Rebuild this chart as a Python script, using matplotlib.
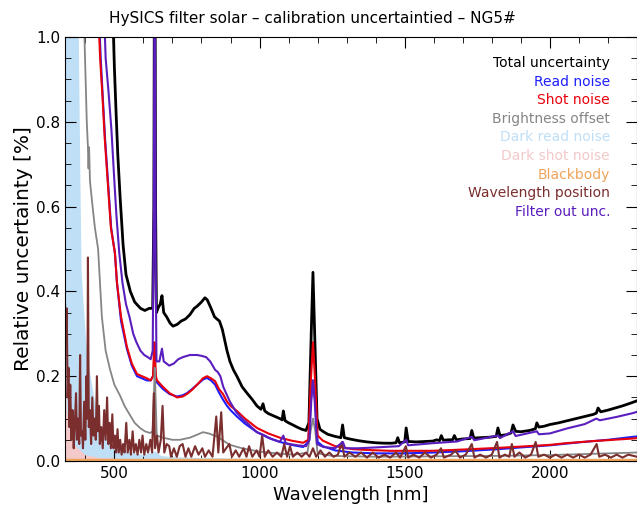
import matplotlib
matplotlib.use('Agg')
import matplotlib.pyplot as plt
from matplotlib.ticker import MultipleLocator

plt.rcParams['font.family'] = ['DejaVu Sans']

# Total uncertainty (black)
wl_total = [495, 500, 506, 512, 520, 530, 540, 555, 570, 590, 605, 620, 632, 636, 638, 640, 642, 645,
            650, 658, 664, 670, 680, 692, 702, 716, 730, 745, 760, 775, 785, 800, 812, 820, 833, 845,
            853, 862, 872, 880, 888, 898, 910, 922, 940, 957, 975, 991, 1005, 1012, 1018, 1030, 1050,
            1070, 1078, 1082, 1088, 1100, 1115, 1129, 1145, 1160, 1170, 1178, 1184, 1190, 1198, 1208,
            1218, 1235, 1260, 1280, 1286, 1292, 1310, 1340, 1370, 1400, 1430, 1455, 1470, 1476, 1482,
            1500, 1505, 1512, 1540, 1570, 1597, 1610, 1620, 1626, 1633, 1650, 1665, 1671, 1678, 1700,
            1725, 1731, 1738, 1760, 1790, 1815, 1821, 1828, 1850, 1866, 1873, 1882, 1900, 1930, 1950,
            1955, 1962, 1980, 2000, 2030, 2060, 2090, 2120, 2150, 2160, 2166, 2175, 2200, 2220, 2250,
            2280, 2300]
total = [1.05, 0.93, 0.82, 0.72, 0.62, 0.51, 0.44, 0.40, 0.375, 0.36, 0.355, 0.36, 0.36, 0.6, 1.2, 1.2,
         0.6, 0.35, 0.36, 0.37, 0.39, 0.35, 0.34, 0.325, 0.318, 0.322, 0.33, 0.335, 0.345, 0.36, 0.365,
         0.375, 0.385, 0.38, 0.36, 0.34, 0.335, 0.33, 0.31, 0.285, 0.26, 0.235, 0.215, 0.2, 0.175, 0.16,
         0.145, 0.13, 0.122, 0.135, 0.118, 0.112, 0.106, 0.1, 0.097, 0.118, 0.095, 0.09, 0.085, 0.08,
         0.075, 0.072, 0.09, 0.3, 0.445, 0.3, 0.1, 0.075, 0.07, 0.063, 0.058, 0.055, 0.085, 0.055, 0.052,
         0.048, 0.045, 0.043, 0.042, 0.042, 0.043, 0.055, 0.043, 0.045, 0.078, 0.046, 0.045, 0.046,
         0.047, 0.05, 0.048, 0.06, 0.049, 0.05, 0.05, 0.06, 0.05, 0.052, 0.053, 0.072, 0.054, 0.055,
         0.056, 0.058, 0.078, 0.06, 0.062, 0.066, 0.085, 0.07, 0.069, 0.072, 0.076, 0.09, 0.08, 0.082,
         0.086, 0.09, 0.095, 0.1, 0.105, 0.11, 0.113, 0.125, 0.116, 0.12, 0.124, 0.13, 0.137, 0.142]

# Read noise (blue)
wl_read = [447, 453, 460, 468, 476, 489, 502, 509, 523, 543, 560, 578, 595, 612, 625, 633, 636, 638, 640,
           643, 647, 667, 690, 716, 735, 750, 768, 785, 805, 819, 833, 847, 860, 874, 888, 900, 922, 950,
           991, 1030, 1070, 1110, 1150, 1168, 1176, 1184, 1192, 1200, 1218, 1260, 1320, 1400, 1500, 1600,
           1700, 1824, 1900, 2000, 2100, 2200, 2286, 2300]
read = [1.05, 0.95, 0.86, 0.76, 0.68, 0.55, 0.49, 0.42, 0.33, 0.265, 0.225, 0.2, 0.195, 0.19, 0.19, 0.2,
        0.22, 0.25, 0.22, 0.19, 0.185, 0.17, 0.158, 0.152, 0.155, 0.16, 0.17, 0.18, 0.192, 0.196, 0.19,
        0.18, 0.162, 0.145, 0.13, 0.12, 0.105, 0.088, 0.068, 0.055, 0.045, 0.038, 0.033, 0.045, 0.14,
        0.19, 0.14, 0.045, 0.035, 0.025, 0.02, 0.018, 0.018, 0.02, 0.023, 0.028, 0.032, 0.037, 0.044,
        0.05, 0.057, 0.058]

# Shot noise (red)
wl_shot = [445, 451, 459, 467, 475, 488, 502, 509, 523, 543, 560, 578, 595, 612, 625, 633, 636, 638, 640,
           643, 647, 667, 690, 716, 735, 750, 768, 785, 805, 819, 833, 847, 860, 874, 888, 900, 922, 950,
           991, 1030, 1070, 1110, 1150, 1168, 1176, 1184, 1192, 1200, 1218, 1260, 1320, 1370, 1450, 1594,
           1700, 1824, 1900, 2000, 2055, 2150, 2286, 2300]
shot = [1.05, 0.95, 0.86, 0.76, 0.68, 0.55, 0.49, 0.42, 0.34, 0.27, 0.23, 0.205, 0.2, 0.195, 0.19, 0.2,
        0.25, 0.28, 0.25, 0.2, 0.19, 0.175, 0.16, 0.15, 0.152, 0.158, 0.168, 0.18, 0.195, 0.2, 0.195,
        0.188, 0.17, 0.158, 0.14, 0.13, 0.118, 0.1, 0.078, 0.065, 0.055, 0.048, 0.043, 0.05, 0.18, 0.28,
        0.18, 0.06, 0.048, 0.035, 0.028, 0.026, 0.024, 0.024, 0.027, 0.031, 0.034, 0.038, 0.042, 0.047,
        0.053, 0.054]

# Brightness offset (gray)
wl_bright = [395, 399, 405, 409, 411, 413, 416, 425, 433, 444, 457, 470, 485, 500, 519, 535, 554, 570,
             588, 605, 623, 632, 636, 639, 642, 646, 667, 700, 726, 760, 785, 805, 825, 853, 875, 898, 940,
             1000, 1060, 1120, 1165, 1176, 1184, 1192, 1200, 1250, 1400, 1600, 1800, 2000, 2200, 2300]
bright = [1.05, 0.95, 0.8, 0.74, 0.69, 0.74, 0.66, 0.6, 0.55, 0.5, 0.34, 0.26, 0.216, 0.18, 0.155, 0.13,
          0.108, 0.09, 0.078, 0.07, 0.066, 0.07, 0.15, 0.22, 0.15, 0.06, 0.055, 0.05, 0.05, 0.055, 0.062,
          0.068, 0.065, 0.058, 0.048, 0.038, 0.03, 0.022, 0.018, 0.015, 0.02, 0.07, 0.1, 0.07, 0.018, 0.012,
          0.01, 0.011, 0.012, 0.014, 0.018, 0.02]

# Dark read noise (light blue)
wl_dread = [330, 340, 350, 360, 368, 372, 376, 380, 384, 390, 398, 405, 415, 425, 435, 450, 470, 500, 540,
            600, 640, 660, 700, 800, 1000, 1500, 2300]
dread = [1.5, 1.5, 1.5, 1.5, 1.5, 1.2, 0.9, 0.66, 0.45, 0.38, 0.3, 0.24, 0.2, 0.16, 0.12, 0.08, 0.05, 0.03,
         0.02, 0.012, 0.02, 0.01, 0.007, 0.005, 0.003, 0.002, 0.002]

# Dark shot noise (pink)
wl_dshot = [330, 335, 345, 360, 375, 400, 450, 600, 2300]
dshot = [0.3, 0.12, 0.07, 0.04, 0.03, 0.015, 0.008, 0.004, 0.002]

# Blackbody (orange)
wl_bb = [330, 800, 1300, 1800, 2300]
bb = [0.002, 0.002, 0.002, 0.002, 0.002]

# Wavelength position (brown)
wl_pos = [330, 333, 336, 339, 342, 345, 348, 352, 356, 360, 364, 368, 371, 375, 379, 382, 385, 389, 392,
          396, 400, 404, 407, 409, 412, 416, 420, 424, 428, 432, 436, 440, 443, 447, 450, 455, 460, 465,
          470, 475, 479, 484, 488, 493, 497, 502, 506, 511, 515, 520, 525, 530, 535, 541, 546, 552, 557,
          563, 568, 574, 580, 586, 592, 597, 603, 610, 616, 624, 630, 636, 640, 647, 652, 660, 666, 672,
          680, 689, 695, 705, 715, 725, 735, 745, 755, 765, 778, 790, 803, 812, 825, 838, 851, 858, 868,
          875, 885, 896, 905, 918, 930, 945, 955, 964, 975, 990, 1000, 1009, 1018, 1030, 1045, 1060, 1075,
          1085, 1095, 1105, 1115, 1130, 1145, 1160, 1172, 1184, 1195, 1210, 1225, 1240, 1255, 1270, 1284,
          1292, 1310, 1330, 1350, 1370, 1390, 1410, 1430, 1450, 1470, 1484, 1504, 1512, 1530, 1550, 1570,
          1590, 1610, 1625, 1635, 1660, 1675, 1690, 1710, 1731, 1740, 1760, 1780, 1800, 1818, 1826, 1845,
          1860, 1869, 1878, 1895, 1915, 1935, 1951, 1960, 1980, 2000, 2020, 2040, 2060, 2080, 2100, 2120,
          2140, 2161, 2170, 2190, 2210, 2230, 2250, 2270, 2300]
pos = [0.37, 0.3, 0.36, 0.15, 0.22, 0.08, 0.18, 0.05, 0.12, 0.03, 0.09, 0.16, 0.05, 0.1, 0.04, 0.25, 0.06,
       0.07, 0.03, 0.14, 0.05, 0.2, 0.1, 0.48, 0.08, 0.12, 0.04, 0.15, 0.06, 0.1, 0.05, 0.2, 0.07, 0.13,
       0.04, 0.08, 0.03, 0.12, 0.05, 0.15, 0.04, 0.09, 0.03, 0.11, 0.03, 0.06, 0.02, 0.075, 0.02, 0.05,
       0.015, 0.04, 0.02, 0.09, 0.02, 0.05, 0.015, 0.07, 0.02, 0.04, 0.015, 0.05, 0.02, 0.06, 0.015, 0.04,
       0.02, 0.05, 0.02, 0.16, 0.03, 0.06, 0.02, 0.05, 0.13, 0.02, 0.04, 0.035, 0.01, 0.03, 0.01, 0.035,
       0.04, 0.01, 0.03, 0.01, 0.035, 0.015, 0.03, 0.01, 0.025, 0.01, 0.105, 0.02, 0.115, 0.02, 0.03, 0.04,
       0.01, 0.025, 0.01, 0.03, 0.01, 0.035, 0.01, 0.025, 0.01, 0.06, 0.01, 0.025, 0.01, 0.02, 0.01, 0.04,
       0.01, 0.035, 0.01, 0.02, 0.01, 0.02, 0.01, 0.03, 0.01, 0.025, 0.01, 0.02, 0.01, 0.015, 0.045, 0.01,
       0.02, 0.01, 0.02, 0.008, 0.02, 0.008, 0.015, 0.008, 0.02, 0.008, 0.035, 0.008, 0.015, 0.008, 0.02,
       0.008, 0.015, 0.03, 0.008, 0.015, 0.025, 0.008, 0.015, 0.04, 0.008, 0.015, 0.008, 0.015, 0.045,
       0.008, 0.015, 0.01, 0.04, 0.01, 0.02, 0.008, 0.015, 0.045, 0.01, 0.015, 0.008, 0.015, 0.008, 0.015,
       0.008, 0.015, 0.008, 0.015, 0.04, 0.01, 0.015, 0.008, 0.015, 0.008, 0.015, 0.01]

# Filter out unc. (purple)
wl_filt = [465, 470, 480, 490, 500, 507, 517, 528, 540, 552, 565, 576, 590, 603, 615, 625, 632, 636, 638,
           640, 642, 645, 655, 664, 670, 689, 705, 720, 736, 760, 785, 800, 816, 830, 847, 856, 865, 875,
           888, 898, 920, 940, 957, 975, 991, 1012, 1040, 1070, 1082, 1090, 1105, 1130, 1160, 1172, 1178,
           1184, 1190, 1198, 1220, 1260, 1287, 1295, 1340, 1400, 1480, 1505, 1512, 1597, 1680, 1731, 1740,
           1821, 1828, 1873, 1882, 1955, 1962, 2000, 2060, 2120, 2160, 2172, 2230, 2286, 2300]
filt = [1.05, 0.95, 0.87, 0.78, 0.66, 0.58, 0.49, 0.42, 0.37, 0.34, 0.3, 0.28, 0.26, 0.25, 0.245, 0.24,
        0.26, 0.6, 1.1, 1.1, 0.5, 0.235, 0.235, 0.265, 0.235, 0.225, 0.23, 0.24, 0.245, 0.25, 0.25, 0.248,
        0.245, 0.235, 0.215, 0.21, 0.2, 0.175, 0.155, 0.14, 0.115, 0.1, 0.09, 0.078, 0.068, 0.062, 0.052,
        0.045, 0.06, 0.042, 0.04, 0.037, 0.035, 0.05, 0.14, 0.19, 0.14, 0.04, 0.033, 0.03, 0.045, 0.03,
        0.03, 0.032, 0.035, 0.05, 0.037, 0.042, 0.046, 0.057, 0.049, 0.06, 0.054, 0.07, 0.059, 0.07, 0.063,
        0.065, 0.077, 0.087, 0.1, 0.096, 0.104, 0.113, 0.116]

labels = ['Total uncertainty', 'Read noise', 'Shot noise', 'Brightness offset', 'Dark read noise',
          'Dark shot noise', 'Blackbody', 'Wavelength position', 'Filter out unc.']
colors = ['#000000', '#1E1EFF', '#E8000B', '#858585', '#BFDFF7', '#F3C9C9', '#EFA45C', '#7B2E2E', '#5A1EBE']

fig = plt.figure(figsize=(6.37, 5.12), dpi=100)
ax = fig.add_axes([65 / 637, 1 - 461 / 512, 572 / 637, 424 / 512])

ax.plot(wl_total, total, color=colors[0], linewidth=2)
ax.plot(wl_read, read, color=colors[1], linewidth=1.5)
ax.plot(wl_shot, shot, color=colors[2], linewidth=1.5)
ax.plot(wl_bright, bright, color=colors[3], linewidth=1.3)
ax.fill_between(wl_dread, dread, 0, color=colors[4], linewidth=0)
ax.plot(wl_dread, dread, color=colors[4], linewidth=1.3)
ax.fill_between(wl_dshot, dshot, 0, color=colors[5], linewidth=0)
ax.plot(wl_bb, bb, color=colors[6], linewidth=2.5)
ax.plot(wl_pos, pos, color=colors[7], linewidth=1.5)
ax.plot(wl_filt, filt, color=colors[8], linewidth=1.5)

ax.set_xlim(330, 2300)
ax.set_ylim(0, 1)
ax.xaxis.set_major_locator(MultipleLocator(500))
ax.xaxis.set_minor_locator(MultipleLocator(100))
ax.yaxis.set_major_locator(MultipleLocator(0.2))
ax.yaxis.set_minor_locator(MultipleLocator(0.05))
ax.tick_params(which='both', direction='in', top=True, right=True, labelsize=11)
ax.tick_params(which='major', length=8)
ax.tick_params(which='minor', length=4)
ax.yaxis.set_major_formatter(plt.FuncFormatter(lambda v, p: '%.1f' % v))

# legend as coloured text, right aligned
for i, (lab, col) in enumerate(zip(labels, colors)):
    ax.text(0.953, (461 - 63 - 18.6 * i) / 424, lab, color=col, fontsize=10,
            ha='right', va='center', transform=ax.transAxes)

fig.text(312 / 637, 1 - 18 / 512, 'HySICS filter solar \u2013 calibration uncertaintied \u2013 NG5#',
         fontsize=11, ha='center', va='center')
ax.set_xlabel('Wavelength [nm]', fontsize=13)
ax.set_ylabel('Relative uncertainty [%]', fontsize=14.5, labelpad=2)

fig.savefig('out.png', dpi=100)
